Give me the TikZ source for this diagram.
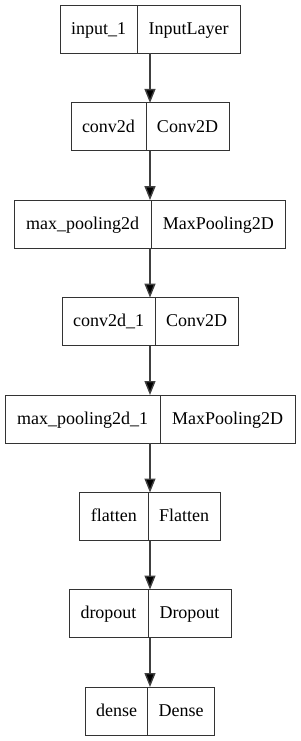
\documentclass[tikz,border=0pt]{standalone}
\usepackage{fontspec}
\setmainfont{Liberation Serif}
\usetikzlibrary{arrows.meta}
\newcommand\mylayer[6]{%
  \node[layerbox,minimum width=2*#3pt] (#1) at (150,#2+24) {};
  \draw[divline] (#4,#2) -- (#4,#2+48);
  \node[lbl] (#1l) at ({(150-#3+#4)/2},#2+29.3) {#5};
  \node[lbl] (#1r) at ({(150+#3+#4)/2},#2+29.3) {#6};
}
\begin{document}
\begin{tikzpicture}[x=1pt,y=-1pt,
  layerbox/.style={draw=black!80,line width=1pt,minimum height=48pt,inner sep=0pt,outer sep=0pt},
  divline/.style={draw=black!80,line width=1pt},
  lbl/.style={font=\fontsize{18}{20}\selectfont,anchor=base,inner sep=0pt},
  flow/.style={draw=black!75,line width=1.4pt,-{Triangle[length=14pt,width=11pt,fill=black]}}]
\useasboundingbox (0,0) rectangle (300,741);
\mylayer{b1}{5.3}{90}{137}{input\_1}{InputLayer}
\mylayer{b2}{102.9}{79}{146}{conv2d}{Conv2D}
\mylayer{b3}{200.1}{135.7}{151}{max\_pooling2d}{MaxPooling2D}
\mylayer{b4}{297.6}{88}{155.3}{conv2d\_1}{Conv2D}
\mylayer{b5}{395}{145}{160.3}{max\_pooling2d\_1}{MaxPooling2D}
\mylayer{b6}{492.5}{70.2}{148}{flatten}{Flatten}
\mylayer{b7}{589.5}{81}{148}{dropout}{Dropout}
\mylayer{b8}{687}{64.7}{147.7}{dense}{Dense}
\draw[flow] (b1) -- (b2);
\draw[flow] (b2) -- (b3);
\draw[flow] (b3) -- (b4);
\draw[flow] (b4) -- (b5);
\draw[flow] (b5) -- (b6);
\draw[flow] (b6) -- (b7);
\draw[flow] (b7) -- (b8);
\end{tikzpicture}
\end{document}
